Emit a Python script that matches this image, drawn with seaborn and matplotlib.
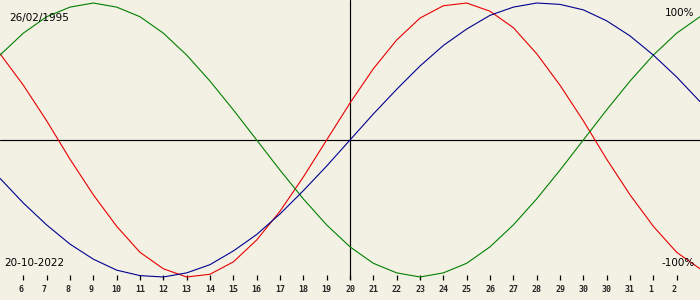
import numpy as np
import pandas as pd
import matplotlib
matplotlib.use("Agg")
import matplotlib.pyplot as plt
import matplotlib.transforms as mtransforms
import seaborn as sns

# ---- data (percent values read per day) ----
day_labels = ["6", "7", "8", "9", "10", "11", "12", "13", "14", "15", "16", "17",
              "18", "19", "20", "21", "22", "23", "24", "25", "26", "27", "28",
              "29", "30", "30", "31", "1", "2"]
physical = [63, 40, 14, -14, -40, -63, -82, -94, -100, -98, -89, -73, -52, -27, 0,
            27, 52, 73, 89, 98, 100, 94, 82, 63, 40, 14, -14, -40, -63, -82, -94]
emotional = [62, 78, 90, 97, 100, 97, 90, 78, 62, 43, 22, 0, -22, -43, -62, -78,
             -90, -97, -100, -97, -90, -78, -62, -43, -22, 0, 22, 43, 62, 78, 90]
intellectual = [-28, -46, -62, -76, -87, -95, -99, -100, -97, -91, -81, -69, -54,
                -37, -19, 0, 19, 37, 54, 69, 81, 91, 97, 100, 99, 95, 87, 76, 62, 46, 28]
birth_date = "26/02/1995"
target_date = "20-10-2022"
center_index = 15

BG = "#F3F0E4"
colors = {"physical": "#E80000", "emotional": "#008000", "intellectual": "#000090"}

sns.set_style("white", {"axes.facecolor": BG, "figure.facecolor": BG})
plt.rcParams["font.family"] = ["DejaVu Sans"]

n = len(physical)
days = np.arange(n)
df = pd.concat([
    pd.DataFrame({"day": days, "value": physical, "series": "physical"}),
    pd.DataFrame({"day": days, "value": emotional, "series": "emotional"}),
    pd.DataFrame({"day": days, "value": intellectual, "series": "intellectual"}),
], ignore_index=True)

fig = plt.figure(figsize=(7, 3), dpi=100, facecolor=BG)
ax = fig.add_axes([0, 20 / 300, 1, 280 / 300])
ax.set_facecolor(BG)

ax.axhline(0, color="black", lw=0.85, zorder=1)
ax.axvline(center_index, color="black", lw=0.85, zorder=1)

sns.lineplot(data=df, x="day", y="value", hue="series", palette=colors,
             hue_order=["physical", "emotional", "intellectual"],
             linewidth=0.8, legend=False, ax=ax, zorder=3, sort=False)

ax.set_xlim(0, n - 1)
ax.set_ylim(-102.2, 102.2)
for s in ax.spines.values():
    s.set_visible(False)
ax.set_xlabel("")
ax.set_ylabel("")
ax.set_yticks([])

tick_pos = np.arange(1, len(day_labels) + 1)
ax.set_xticks(tick_pos)
ax.set_xticklabels(day_labels, fontfamily="DejaVu Sans Mono", fontsize=6,
                   fontweight="bold")
ax.tick_params(axis="x", direction="in", length=3.8, width=0.9, color="black",
               pad=3.8, bottom=True)
offset = mtransforms.ScaledTranslation(-5 / 100, 0, fig.dpi_scale_trans)
for lab in ax.get_xticklabels():
    lab.set_horizontalalignment("left")
    lab.set_transform(lab.get_transform() + offset)

fig.text(9.3 / 700, 1 - 21 / 300, birth_date, fontsize=7.5, ha="left",
         va="baseline", color="black")
fig.text(4.3 / 700, 1 - 266 / 300, target_date, fontsize=7.5, ha="left",
         va="baseline", color="black")
fig.text(694 / 700, 1 - 16 / 300, "100%", fontsize=7.5, ha="right",
         va="baseline", color="black")
fig.text(694.5 / 700, 1 - 266 / 300, "-100%", fontsize=7.5, ha="right",
         va="baseline", color="black")

fig.savefig("out.png", dpi=100, facecolor=BG)
